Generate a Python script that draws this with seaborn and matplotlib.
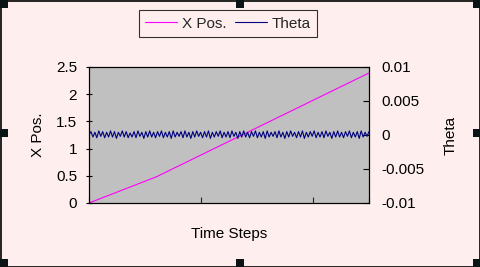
import numpy as np
import pandas as pd
import matplotlib
matplotlib.use("Agg")
import matplotlib.pyplot as plt
from matplotlib.patches import Rectangle
from matplotlib.lines import Line2D
import seaborn as sns

# ---- data ----
xpos_time = [0, 60, 250]
xpos_vals = [0.0, 0.48, 2.39]

theta_e4 = [0, 5, -3, 4, -4, 6, -2, 5, -4, 4, -3, 6, -3, 5, -5, 4, -2, 6, -3, 5, -4, 3, -3, 5, -4, 6, -2, 4,
            -5, 5, -3, 6, -3, 4, -4, 5, -2, 6, -4, 4, -3, 5, -5, 6, -3, 4, -2, 5, -4, 6, -3, 4, -5, 5, -3,
            6, -2, 4, -4, 5, -3, 6, -5, 4, -3, 5, -2, 6, -4, 4, -3, 5, -4, 6, -2, 4, -5, 5, -3, 6, -3, 4,
            -4, 5, -2, 6, -4, 4, -3, 5, -5, 6, -3, 4, -2, 5, -4, 6, -3, 4, -5, 5, -3, 6, -2, 4, -4, 5, -3,
            6, -5, 4, -3, 5, -2, 6, -4, 4, -3, 5, -4, 6, -2, 4, -5, 5, -3, 6, -3, 4, -4, 5, -2, 6, -4, 4,
            -3, 5, -5, 6, -3, 4, -2, 5]
theta_vals = [v * 1e-4 for v in theta_e4]
theta_time = np.linspace(0, 250, len(theta_vals))

left_ticks = [0, 0.5, 1, 1.5, 2, 2.5]
left_labels = ["0", "0.5", "1", "1.5", "2", "2.5"]
right_ticks = [-0.01, -0.005, 0, 0.005, 0.01]
right_labels = ["-0.01", "-0.005", "0", "0.005", "0.01"]
x_ticks = [0, 100, 200, 250]

sns.set_theme(style="white")
plt.rcParams['font.family'] = ['Liberation Sans', 'DejaVu Sans']

FS = 11
BG = "#FFEEEE"
fig = plt.figure(figsize=(4.81, 2.67), dpi=100, facecolor=BG)
ax = fig.add_axes([89/481, 1-203/267, 280/481, 136/267])
ax.set_facecolor("#C0C0C0")

df_x = pd.DataFrame({"t": xpos_time, "v": xpos_vals})
df_t = pd.DataFrame({"t": theta_time, "v": theta_vals})

sns.lineplot(data=df_x, x="t", y="v", ax=ax, color="#FF00FF", linewidth=0.8)
ax.set_xlim(0, 250)
ax.set_ylim(0, 2.5)
ax.set_yticks(left_ticks)
ax.set_yticklabels(left_labels)
ax.set_xticks(x_ticks)
ax.set_xticklabels([])
ax.set_xlabel("Time Steps", fontsize=FS, color="black", labelpad=14)
ax.set_ylabel("X Pos.", fontsize=FS, color="black", labelpad=8)
ax.tick_params(axis="y", direction="inout", length=5, width=0.8, labelsize=FS, colors="black", pad=6, left=True)
ax.tick_params(axis="x", direction="in", length=4, width=0.8, bottom=True)

ax2 = ax.twinx()
sns.lineplot(data=df_t, x="t", y="v", ax=ax2, color="#000080", linewidth=0.8)
ax2.set_ylim(-0.01, 0.01)
ax2.set_yticks(right_ticks)
ax2.set_yticklabels(right_labels)
ax2.set_ylabel("Theta", fontsize=FS, color="black", labelpad=14)
ax2.tick_params(axis="y", direction="in", length=4, width=0.8, labelsize=FS, colors="black", pad=9, right=True)
ax2.set_xlim(0, 250)

for a in (ax, ax2):
    for s in a.spines.values():
        s.set_color("black")
        s.set_linewidth(0.8)

handles = [Line2D([0], [0], color="#FF00FF", lw=0.8), Line2D([0], [0], color="#000080", lw=0.8)]
leg = fig.legend(handles, ["X Pos.", "Theta"], loc="center", bbox_to_anchor=(228/481, 1-23.5/267),
                 ncol=2, frameon=True, fontsize=FS, handlelength=2.1, columnspacing=0.6,
                 handletextpad=0.3, borderpad=0.4, borderaxespad=0, fancybox=False, facecolor=BG)
leg.get_frame().set_edgecolor("black")
leg.get_frame().set_linewidth(0.8)

# figure border and selection handles
fig.patches.append(Rectangle((0.5/481, 0.5/267), 479.5/481, 265.5/267, transform=fig.transFigure,
                             fill=False, edgecolor="black", linewidth=1.2))
hs = 8
for (px, py) in [(0, 0), (240 - hs/2, 0), (481 - hs, 0), (0, 133 - hs/2), (481 - hs, 133 - hs/2),
                 (0, 267 - hs), (240 - hs/2, 267 - hs), (481 - hs, 267 - hs)]:
    fig.patches.append(Rectangle((px/481, 1 - (py + hs)/267), hs/481, hs/267, transform=fig.transFigure,
                                 facecolor="#0A1414", edgecolor="none"))

fig.savefig("out.png", dpi=100, facecolor=BG)
